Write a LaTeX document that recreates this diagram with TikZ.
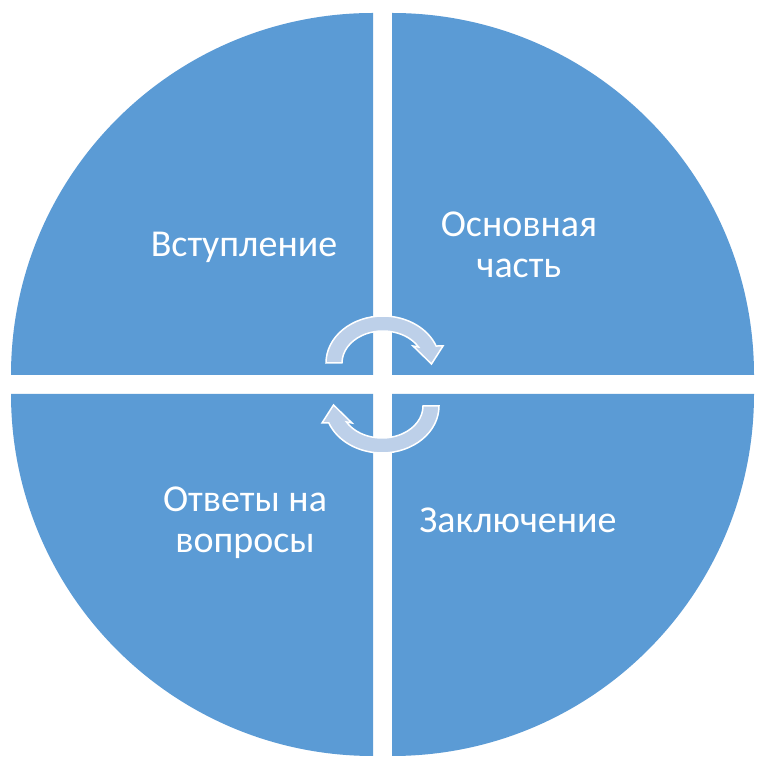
\documentclass[tikz,border=0pt]{standalone}
\usepackage{fontspec}
\setmainfont{Carlito}
\definecolor{segblue}{HTML}{5B9BD5}
\definecolor{arrowfill}{RGB}{189,208,233}
\begin{document}
\begin{tikzpicture}[x=1pt,y=1pt,
  seg/.style={fill=segblue,draw=none},
  lbl/.style={text=white,font=\fontsize{38}{41}\selectfont,align=center,anchor=base,inner sep=0pt},
  cyc/.style={fill=arrowfill,draw=white,line width=1.5pt,line join=miter}]
\useasboundingbox (0,0) rectangle (766,766);
\fill[white] (0,0) rectangle (766,766);
% quadrants
\path[seg] (373,391) -- (11,391) arc[start angle=180,end angle=90,radius=362pt] -- cycle;
\path[seg] (392,391) -- (392,753) arc[start angle=90,end angle=0,radius=362pt] -- cycle;
\path[seg] (373,372) -- (373,10) arc[start angle=270,end angle=180,radius=362pt] -- cycle;
\path[seg] (392,372) -- (754,372) arc[start angle=0,end angle=-90,radius=362pt] -- cycle;
% cycle arrows
\path[cyc,shift={(383,403)}] (-57,0) arc[start angle=180,end angle=21.2,x radius=57pt,y radius=47pt]
  -- (60,17) -- (48.5,-1) -- (30,17) -- (35.5,16)
  arc[start angle=30,end angle=180,x radius=41pt,y radius=32pt] -- cycle;
\path[cyc,shift={(382,360)},rotate=180] (-57,0) arc[start angle=180,end angle=21.2,x radius=57pt,y radius=47pt]
  -- (60,17) -- (48.5,-1) -- (30,17) -- (35.5,16)
  arc[start angle=30,end angle=180,x radius=41pt,y radius=32pt] -- cycle;
% labels
\node[lbl] (intro) at (244,509) {Вступление};
\node[lbl] (main) at (519,488) {Основная\\часть};
\node[lbl] (qa) at (245,213) {Ответы на\\вопросы};
\node[lbl] (concl) at (518,233) {Заключение};
\end{tikzpicture}
\end{document}
